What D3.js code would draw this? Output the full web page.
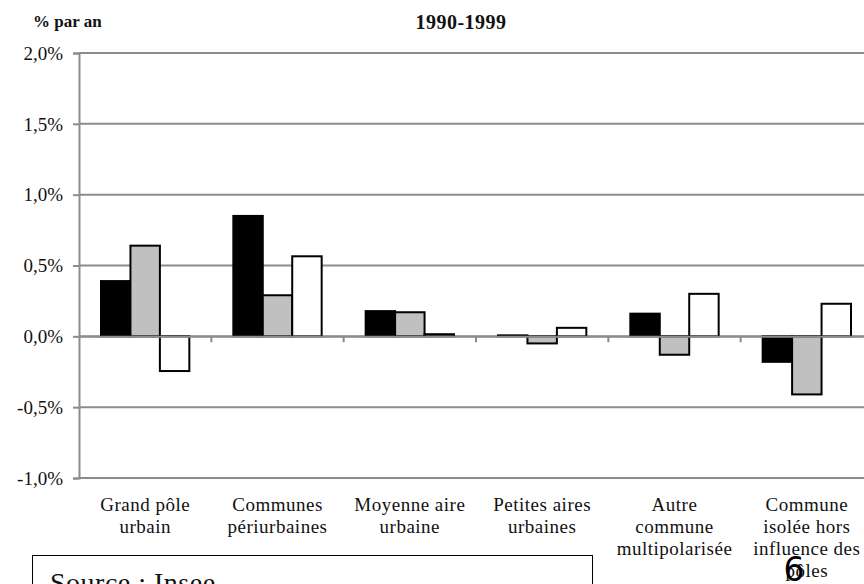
<!DOCTYPE html>
<html>
<head>
<meta charset="utf-8">
<script src="https://cdn.jsdelivr.net/npm/d3@7"></script>
<style>
  html, body { margin: 0; padding: 0; background: #fff; overflow: hidden; }
  svg { display: block; }
</style>
</head>
<body>
<svg id="chart" width="864" height="584"></svg>
<script>
// Annual population growth by type of commune, 1990-1999 (three components)
const categories = [
  ["Grand pôle", "urbain"],
  ["Communes", "périurbaines"],
  ["Moyenne aire", "urbaine"],
  ["Petites aires", "urbaines"],
  ["Autre", "commune", "multipolarisée"],
  ["Commune", "isolée hors", "influence des", "pôles"]
];
const seriesBlack = [0.39, 0.85, 0.178, 0.007, 0.16, -0.18];
const seriesGray  = [0.64, 0.29, 0.17, -0.05, -0.13, -0.41];
const seriesWhite = [-0.245, 0.565, 0.015, 0.06, 0.30, 0.23];
const seriesFills = ["#000000", "#c0c0c0", "#ffffff"];
const yTicks = [-1.0, -0.5, 0.0, 0.5, 1.0, 1.5, 2.0];

const SERIF = '"Liberation Serif", "Times New Roman", serif';
const GRID = "#8c8c8c";

const svg = d3.select("#chart");
const plotLeft = 79, plotRight = 873, plotTop = 53, plotBottom = 478;

const y = d3.scaleLinear().domain([-1, 2]).range([plotBottom, plotTop]);
const x = d3.scaleBand().domain(d3.range(categories.length)).range([plotLeft, plotRight]);
// bars occupy the middle two thirds of each category
const inner = d3.scaleBand().domain([0, 1, 2]).range([22, x.bandwidth() - 22]);

const fmt = v => d3.format(".1f")(v).replace(".", ",").replace("−", "-") + "%";

// horizontal gridlines
svg.append("g").selectAll("line").data(yTicks).join("line")
  .attr("x1", plotLeft).attr("x2", 864)
  .attr("y1", d => y(d)).attr("y2", d => y(d))
  .attr("stroke", GRID).attr("stroke-width", 2);

// y axis
const yAxis = d3.axisLeft(y).tickValues(yTicks).tickSize(6).tickPadding(10).tickFormat(fmt);
const gy = svg.append("g").attr("transform", `translate(${plotLeft},0)`).call(yAxis);
gy.select(".domain").attr("stroke", GRID).attr("stroke-width", 2);
gy.selectAll(".tick line").attr("stroke", GRID).attr("stroke-width", 2);
gy.selectAll(".tick text")
  .style("font-family", SERIF).style("font-size", "19px").attr("fill", "#111")
  .attr("dy", "0.33em");

// bars
const series = [seriesBlack, seriesGray, seriesWhite];
series.forEach((vals, si) => {
  svg.append("g").selectAll("rect").data(vals).join("rect")
    .attr("x", (d, i) => x(i) + inner(si))
    .attr("width", inner.bandwidth())
    .attr("y", d => y(Math.max(0, d)))
    .attr("height", d => Math.abs(y(d) - y(0)))
    .attr("fill", seriesFills[si])
    .attr("stroke", "#000").attr("stroke-width", 2);
});

// zero line / category axis
const xAxis = d3.axisBottom(x).tickSize(0).tickFormat("");
const gx = svg.append("g").attr("transform", `translate(0,${y(0)})`).call(xAxis);
gx.select(".domain").attr("stroke", GRID).attr("stroke-width", 2);
svg.append("g").selectAll("line").data(d3.range(1, categories.length)).join("line")
  .attr("x1", i => x(i)).attr("x2", i => x(i))
  .attr("y1", y(0)).attr("y2", y(0) + 6)
  .attr("stroke", GRID).attr("stroke-width", 2);

// category labels
const lab = svg.append("g").selectAll("text").data(categories).join("text")
  .attr("x", (d, i) => x(i) + x.bandwidth() / 2)
  .attr("y", 511)
  .attr("text-anchor", "middle")
  .attr("fill", "#111")
  .style("font-family", SERIF).style("font-size", "19px").style("letter-spacing", "0.5px");
lab.selectAll("tspan").data((d, i) => d.map(t => ({t, i}))).join("tspan")
  .attr("x", d => x(d.i) + x.bandwidth() / 2)
  .attr("dy", (d, k) => k === 0 ? 0 : 22)
  .text(d => d.t);

// titles
svg.append("text").attr("x", 33).attr("y", 27).attr("fill", "#111")
  .style("font-family", SERIF).style("font-size", "17px").style("font-weight", "bold")
  .text("% par an");
svg.append("text").attr("x", 461).attr("y", 29).attr("text-anchor", "middle").attr("fill", "#111")
  .style("font-family", SERIF).style("font-size", "20px").style("font-weight", "bold")
  .style("letter-spacing", "0.5px")
  .text("1990-1999");

// source box
svg.append("rect").attr("x", 32.5).attr("y", 555.5).attr("width", 560).attr("height", 60)
  .attr("fill", "#fff").attr("stroke", "#000").attr("stroke-width", 1);
svg.append("text").attr("x", 50).attr("y", 592).attr("fill", "#111")
  .style("font-family", SERIF).style("font-size", "28px").style("letter-spacing", "0.5px")
  .text("Source : Insee");

// page number
svg.append("text").attr("x", 794).attr("y", 581).attr("text-anchor", "middle").attr("fill", "#000")
  .style("font-family", '"DejaVu Sans", sans-serif').style("font-size", "33px")
  .text("6");
</script>
</body>
</html>
